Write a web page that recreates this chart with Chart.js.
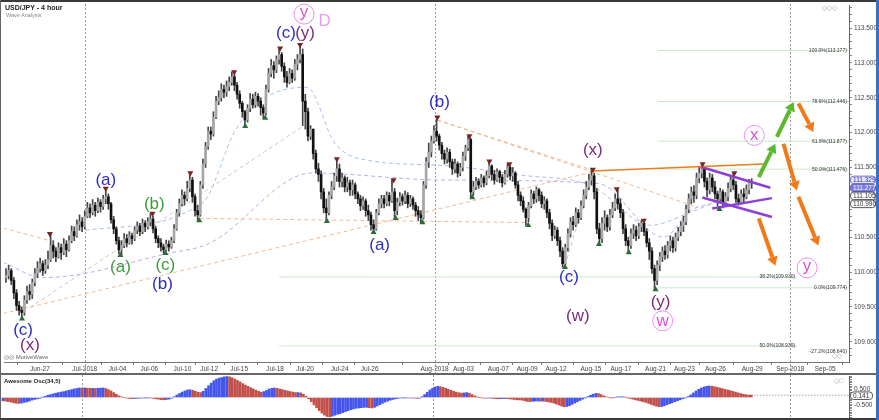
<!DOCTYPE html>
<html lang="en">
<head>
<meta charset="UTF-8">
<title>USD/JPY - 4 hour</title>
<script src="https://cdn.jsdelivr.net/npm/chart.js"></script>
<style>
    html, body { margin: 0; padding: 0; background: #fff; }
    body { width: 879px; height: 420px; position: relative; overflow: hidden; font-family: "Liberation Sans", Arial, sans-serif; }
    canvas { position: absolute; left: 0; }
    #main { top: 0; }
    #osc { top: 375px; }
    .t { position: absolute; white-space: nowrap; line-height: 1; }
    .bar { position: absolute; }
</style>
</head>
<body>
<canvas id="main" width="879" height="373"></canvas>
<canvas id="osc" width="879" height="43"></canvas>

<div class="bar" style="left:0;top:0;width:879px;height:2px;background:#3a3a3a"></div>
<div class="bar" style="left:0;top:0;width:1px;height:420px;background:#666"></div>
<div class="bar" style="left:0;top:418px;width:879px;height:2px;background:#3a3a3a"></div>
<div class="bar" style="left:876px;top:0;width:3px;height:420px;background:#3b70c9"></div>
<div class="bar" style="left:0;top:373px;width:876px;height:2px;background:#666"></div>

<div class="t" style="left:5px;top:4px;font-size:7px;font-weight:bold;color:#222">USD/JPY - 4 hour</div>
<div class="t" style="left:6px;top:13px;font-size:5.5px;color:#888">Wave Analysis</div>
<div class="t" style="left:4px;top:354px;font-size:6px;color:#666">◎◎ MotiveWave</div>
<div class="t" style="left:4px;top:378px;font-size:6px;font-weight:bold;color:#222">Awesome Osc(34,5)</div>
<div class="t" style="left:822px;top:4px;font-size:7px;color:#aaa">◇◇◇</div>
<div class="t" style="left:832px;top:352px;font-size:7px;color:#aaa">◇◇</div>
<div class="t" style="left:834px;top:377px;font-size:7px;color:#aaa">◇□</div>

<script>
    // 4-hour bars, index 0 = Jun-25 00:00, six bars per trading day
    const xTickPos = [12.9, 30, 42.5, 54.6, 67.2, 77.4, 88.8, 102.5, 113.9, 127.1, 138.5, 163.2,
        174.2, 187.5, 198.5, 209.5, 222.8, 234.2, 247.4, 258.4, 270.2, 284.2, 298.7, 312];
    const xTickLabels = ['Jun-27', 'Jul-2018', 'Jul-04', 'Jul-06', 'Jul-10', 'Jul-12', 'Jul-15', 'Jul-18',
        'Jul-20', 'Jul-24', 'Jul-26', 'Aug-2018', 'Aug-03', 'Aug-07', 'Aug-09', 'Aug-12', 'Aug-15',
        'Aug-17', 'Aug-21', 'Aug-23', 'Aug-26', 'Aug-29', 'Sep-2018', 'Sep-05'];
    const monthLines = [30, 163.2, 298.7];
    const priceTicks = [109.0, 109.5, 110.0, 110.5, 111.0, 111.5, 112.0, 112.5, 113.0, 113.5];

    const firstOpen = 109.92;
    const closes = [
        109.95, 110.02, 109.88, 109.70, 109.52, 109.45,
        109.42, 109.60, 109.72, 109.68, 109.85, 109.98,
        110.05, 110.12, 110.02, 110.10, 110.18, 110.38,
        110.30, 110.22, 110.35, 110.28, 110.40, 110.32,
        110.45, 110.58, 110.52, 110.68, 110.72, 110.65,
        110.80, 110.92, 110.85, 110.96, 110.88, 111.00,
        110.94, 111.05, 111.08, 110.98, 110.75, 110.62,
        110.45, 110.32, 110.38, 110.48, 110.42, 110.52,
        110.48, 110.60, 110.66, 110.58, 110.70, 110.65,
        110.72, 110.76, 110.62, 110.48, 110.42, 110.36,
        110.32, 110.40, 110.36, 110.45, 110.62, 110.85,
        110.98, 111.10, 111.05, 111.20, 111.32, 111.08,
        110.88, 110.82, 111.25, 111.55, 111.80, 112.02,
        111.98, 112.22, 112.45, 112.50, 112.62, 112.58,
        112.66, 112.72, 112.80, 112.68, 112.55, 112.42,
        112.30, 112.18, 112.35, 112.48, 112.40, 112.52,
        112.45, 112.36, 112.28, 112.62, 112.85, 112.96,
        112.90, 113.05, 113.12, 112.95, 112.80, 112.72,
        112.85, 112.78, 112.98, 113.05, 113.12, 112.45,
        112.30, 111.95, 112.05, 111.70, 111.48, 111.40,
        111.15, 110.92, 110.85, 111.10, 111.22, 111.38,
        111.48, 111.30, 111.35, 111.22, 111.28, 111.18,
        111.25, 111.12, 111.05, 110.95, 111.02, 110.88,
        110.82, 110.68, 110.62, 110.85, 110.98, 111.05,
        110.98, 111.10, 111.02, 111.15, 110.88, 111.00,
        111.08, 111.02, 111.10, 110.98, 111.05, 110.96,
        110.88, 110.82, 110.78, 111.25, 111.58, 111.72,
        111.88, 112.02, 111.95, 111.82, 111.70, 111.62,
        111.72, 111.58, 111.48, 111.55, 111.42, 111.50,
        111.66, 111.78, 111.90, 111.15, 111.22, 111.30,
        111.25, 111.35, 111.28, 111.38, 111.52, 111.40,
        111.32, 111.44, 111.36, 111.28, 111.40, 111.50,
        111.38, 111.42, 111.25, 111.10, 111.02, 110.90,
        110.78, 110.95, 111.12, 111.05, 111.18, 111.10,
        110.98, 111.02, 110.85, 110.70, 110.52, 110.60,
        110.45, 110.30, 110.12, 110.35, 110.55, 110.72,
        110.68, 110.85, 110.78, 110.95, 111.10, 111.22,
        111.32, 111.38, 111.15, 110.62, 110.48, 110.70,
        110.78, 110.65, 110.82, 110.92, 111.05, 110.98,
        110.85, 110.62, 110.45, 110.38, 110.55, 110.60,
        110.52, 110.65, 110.70, 110.58, 110.42, 110.30,
        110.05, 109.88, 110.10, 110.22, 110.30, 110.25,
        110.38, 110.45, 110.35, 110.50, 110.58, 110.66,
        110.72, 110.90, 111.05, 111.15, 111.10, 111.35,
        111.42, 111.48, 111.30, 111.18, 111.35, 111.22,
        111.12, 111.05, 111.15, 110.98, 111.08, 111.20,
        111.32, 111.25, 111.05, 111.00, 111.12, 111.08,
        111.18, 111.30, 111.28
    ];
    const highs = [
        110.05, 110.10, 110.05, 109.92, 109.75, 109.58,
        109.50, 109.66, 109.80, 109.82, 109.90, 110.05,
        110.15, 110.20, 110.16, 110.18, 110.30, 110.55,
        110.45, 110.35, 110.42, 110.40, 110.48, 110.45,
        110.52, 110.66, 110.65, 110.75, 110.82, 110.78,
        110.88, 111.00, 110.98, 111.04, 111.00, 111.06,
        111.04, 111.10, 111.20, 111.12, 111.00, 110.80,
        110.65, 110.50, 110.45, 110.55, 110.54, 110.58,
        110.56, 110.65, 110.72, 110.70, 110.76, 110.74,
        110.78, 110.84, 110.80, 110.66, 110.52, 110.48,
        110.40, 110.46, 110.45, 110.50, 110.68, 110.90,
        111.05, 111.18, 111.15, 111.30, 111.42, 111.36,
        111.12, 110.96, 111.30, 111.62, 111.86, 112.08,
        112.08, 112.30, 112.52, 112.60, 112.70, 112.68,
        112.74, 112.80, 112.87, 112.84, 112.72, 112.60,
        112.45, 112.32, 112.40, 112.56, 112.55, 112.58,
        112.56, 112.50, 112.40, 112.68, 112.92, 113.05,
        113.02, 113.10, 113.21, 113.15, 113.00, 112.88,
        112.92, 112.90, 113.05, 113.12, 113.26, 113.20,
        112.55, 112.35, 112.10, 112.05, 111.75, 111.56,
        111.45, 111.20, 111.05, 111.15, 111.30, 111.42,
        111.62, 111.55, 111.42, 111.38, 111.36, 111.32,
        111.32, 111.28, 111.15, 111.10, 111.08, 111.05,
        110.96, 110.86, 110.75, 110.90, 111.05, 111.10,
        111.10, 111.15, 111.14, 111.32, 111.20, 111.06,
        111.14, 111.12, 111.16, 111.14, 111.10, 111.08,
        111.00, 110.94, 110.88, 111.30, 111.64, 111.85,
        111.95, 112.10, 112.19, 111.98, 111.86, 111.75,
        111.78, 111.76, 111.62, 111.62, 111.58, 111.56,
        111.72, 111.82, 111.95, 111.92, 111.30, 111.36,
        111.34, 111.40, 111.38, 111.45, 111.59, 111.54,
        111.46, 111.48, 111.46, 111.40, 111.46, 111.55,
        111.55, 111.50, 111.44, 111.30, 111.15, 111.08,
        110.92, 111.00, 111.18, 111.16, 111.22, 111.20,
        111.15, 111.08, 111.05, 110.90, 110.75, 110.66,
        110.64, 110.50, 110.35, 110.40, 110.62, 110.78,
        110.80, 110.92, 110.90, 111.02, 111.18, 111.30,
        111.40, 111.47, 111.42, 111.20, 110.70, 110.78,
        110.88, 110.82, 110.90, 111.00, 111.12, 111.19,
        111.05, 110.90, 110.68, 110.50, 110.62, 110.68,
        110.66, 110.70, 110.74, 110.74, 110.62, 110.48,
        110.35, 110.10, 110.16, 110.28, 110.36, 110.38,
        110.44, 110.52, 110.50, 110.56, 110.64, 110.72,
        110.80, 110.96, 111.12, 111.22, 111.24, 111.42,
        111.50, 111.55, 111.50, 111.35, 111.42, 111.40,
        111.30, 111.16, 111.20, 111.18, 111.14, 111.28,
        111.38, 111.42, 111.30, 111.12, 111.18, 111.20,
        111.25, 111.33, 111.34
    ];
    const lows = [
        109.85, 109.90, 109.82, 109.62, 109.45, 109.38,
        109.33, 109.38, 109.55, 109.60, 109.62, 109.80,
        109.92, 110.00, 109.95, 109.98, 110.05, 110.15,
        110.20, 110.15, 110.20, 110.18, 110.25, 110.22,
        110.30, 110.42, 110.45, 110.50, 110.60, 110.58,
        110.62, 110.78, 110.78, 110.82, 110.80, 110.85,
        110.86, 110.90, 110.98, 110.90, 110.70, 110.55,
        110.40, 110.26, 110.24, 110.35, 110.36, 110.40,
        110.40, 110.45, 110.55, 110.52, 110.55, 110.58,
        110.62, 110.66, 110.56, 110.42, 110.35, 110.30,
        110.27, 110.30, 110.30, 110.34, 110.42, 110.60,
        110.80, 110.95, 110.96, 111.02, 111.15, 111.00,
        110.80, 110.74, 110.80, 111.20, 111.50, 111.76,
        111.90, 111.95, 112.20, 112.40, 112.45, 112.50,
        112.52, 112.60, 112.68, 112.60, 112.48, 112.35,
        112.22, 112.09, 112.15, 112.30, 112.35, 112.36,
        112.38, 112.25, 112.20, 112.25, 112.58, 112.80,
        112.78, 112.86, 112.98, 112.88, 112.72, 112.65,
        112.70, 112.72, 112.75, 112.90, 113.00, 112.10,
        112.05, 111.88, 111.90, 111.62, 111.42, 111.30,
        111.05, 110.85, 110.73, 110.82, 111.05, 111.18,
        111.30, 111.22, 111.22, 111.15, 111.15, 111.10,
        111.10, 111.05, 110.98, 110.88, 110.90, 110.80,
        110.74, 110.60, 110.57, 110.60, 110.82, 110.92,
        110.92, 110.95, 110.95, 111.00, 110.77, 110.82,
        110.95, 110.96, 110.98, 110.92, 110.94, 110.90,
        110.80, 110.74, 110.71, 110.76, 111.20, 111.50,
        111.65, 111.85, 111.88, 111.75, 111.62, 111.55,
        111.56, 111.50, 111.40, 111.42, 111.36, 111.38,
        111.45, 111.60, 111.74, 111.07, 111.10, 111.18,
        111.20, 111.22, 111.22, 111.25, 111.35, 111.32,
        111.26, 111.30, 111.28, 111.22, 111.26, 111.36,
        111.32, 111.30, 111.20, 111.02, 110.95, 110.86,
        110.67, 110.72, 110.92, 110.98, 111.00, 111.02,
        110.92, 110.90, 110.78, 110.62, 110.45, 110.48,
        110.38, 110.22, 110.07, 110.10, 110.30, 110.50,
        110.60, 110.65, 110.70, 110.75, 110.92, 111.05,
        111.18, 111.25, 111.05, 110.55, 110.40, 110.42,
        110.60, 110.58, 110.60, 110.78, 110.88, 110.90,
        110.78, 110.55, 110.38, 110.28, 110.34, 110.48,
        110.45, 110.48, 110.58, 110.52, 110.36, 110.18,
        109.98, 109.75, 109.82, 110.02, 110.15, 110.18,
        110.20, 110.30, 110.28, 110.30, 110.45, 110.52,
        110.58, 110.68, 110.85, 110.98, 111.00, 111.05,
        111.28, 111.35, 111.22, 111.08, 111.12, 111.15,
        111.05, 110.95, 111.00, 110.92, 110.95, 111.02,
        111.15, 111.18, 111.00, 110.96, 110.98, 111.00,
        111.05, 111.12, 111.20
    ];
    // Awesome Oscillator (34,5), one value per bar
    const aoValues = [
        -0.20, -0.22, -0.25, -0.28, -0.32, -0.35,
        -0.36, -0.34, -0.30, -0.27, -0.22, -0.16,
        -0.12, -0.08, -0.05, 0.02, 0.08, 0.14,
        0.18, 0.22, 0.26, 0.30, 0.33, 0.36,
        0.40, 0.44, 0.48, 0.52, 0.55, 0.58,
        0.57, 0.58, 0.57, 0.56, 0.56, 0.55,
        0.56, 0.57, 0.58, 0.55, 0.48, 0.40,
        0.30, 0.20, 0.10, 0.04, 0.00, -0.04,
        -0.06, -0.07, -0.06, -0.05, -0.04, -0.03,
        -0.02, -0.02, -0.03, -0.05, -0.08, -0.10,
        -0.13, -0.14, -0.12, -0.10, -0.04, 0.05,
        0.15, 0.25, 0.33, 0.40, 0.46, 0.47,
        0.44, 0.38, 0.32, 0.30, 0.38, 0.55,
        0.72, 0.88, 1.02, 1.12, 1.18, 1.22,
        1.26, 1.28, 1.26, 1.20, 1.12, 1.04,
        0.95, 0.85, 0.76, 0.68, 0.60, 0.52,
        0.45, 0.38, 0.32, 0.36, 0.44, 0.52,
        0.56, 0.58, 0.56, 0.52, 0.48, 0.44,
        0.40, 0.36, 0.33, 0.30, 0.30, 0.28,
        0.20, 0.08, -0.08, -0.25, -0.45, -0.62,
        -0.80, -0.95, -1.08, -1.16, -1.18, -1.14,
        -1.08, -1.02, -0.98, -0.92, -0.86, -0.80,
        -0.74, -0.70, -0.66, -0.64, -0.62, -0.60,
        -0.60, -0.62, -0.64, -0.60, -0.52, -0.44,
        -0.36, -0.28, -0.22, -0.16, -0.12, -0.08,
        -0.05, -0.03, -0.02, -0.02, -0.03, -0.03,
        -0.04, -0.05, -0.04, 0.05, 0.18, 0.32,
        0.46, 0.56, 0.64, 0.68, 0.66, 0.62,
        0.56, 0.50, 0.44, 0.38, 0.33, 0.29,
        0.27, 0.28, 0.30, 0.26, 0.18, 0.10,
        0.04, 0.00, -0.03, -0.04, -0.03, -0.04,
        -0.06, -0.07, -0.08, -0.07, -0.06, -0.07,
        -0.08, -0.10, -0.12, -0.14, -0.15, -0.16,
        -0.20, -0.24, -0.25, -0.23, -0.22, -0.22,
        -0.23, -0.22, -0.24, -0.27, -0.30, -0.34,
        -0.40, -0.46, -0.52, -0.56, -0.55, -0.50,
        -0.42, -0.34, -0.26, -0.18, -0.10, -0.02,
        0.06, 0.14, 0.20, 0.25, 0.24, 0.18,
        0.10, 0.04, 0.00, -0.02, 0.00, 0.02,
        0.04, 0.05, 0.02, -0.02, -0.06, -0.10,
        -0.14, -0.18, -0.22, -0.26, -0.30, -0.36,
        -0.42, -0.48, -0.53, -0.56, -0.55, -0.50,
        -0.44, -0.38, -0.32, -0.26, -0.20, -0.14,
        -0.08, -0.02, 0.06, 0.16, 0.28, 0.40,
        0.50, 0.58, 0.64, 0.68, 0.70, 0.69,
        0.66, 0.62, 0.58, 0.54, 0.50, 0.46,
        0.42, 0.38, 0.33, 0.28, 0.24, 0.20,
        0.17, 0.15, 0.141
    ];

    // swing markers: [bar, price]
    const swingHighs = [[16.7, 110.55], [38.0, 111.20], [55.8, 110.84], [70.2, 111.42], [86.9, 112.87],
        [104.4, 113.21], [112.0, 113.26], [126.0, 111.62], [147.6, 111.32], [164.3, 112.22],
        [176.5, 111.95], [184.1, 111.59], [191.7, 111.55], [223.5, 111.47], [232.6, 111.19],
        [242.9, 110.74], [265.3, 111.55], [277.4, 111.42]];
    const swingLows = [[6.1, 109.33], [43.6, 110.24], [60.7, 110.27], [73.6, 110.74], [91.1, 112.09],
        [98.7, 112.21], [122.2, 110.73], [140.0, 110.57], [148.4, 110.77], [158.6, 110.71],
        [177.6, 111.07], [198.9, 110.67], [212.9, 110.07], [225.8, 110.40], [237.2, 110.28],
        [247.4, 109.75], [271.7, 110.90]];

    // fibonacci levels
    const fibNames = ['100.0%', '78.6%', '61.8%', '50.0%', '38.2%', '0.0%', '50.0%', '-27.2%'];
    const fibValues = [113.177, 112.446, 111.877, 111.476, 109.930, 109.774, 108.939, 108.640];
    const fibFrom = [248.2, 248.2, 248.2, 248.2, 104, 248.2, 104, 248.2];
    const fibTo = [321, 321, 321, 321, 301.3, 321, 301.3, 321];

    // dashed study lines
    const PEACH = 'rgba(236,178,128,0.85)', LAV = 'rgba(178,158,226,0.85)',
        LBLUE = 'rgba(150,182,232,0.85)', GREYP = 'rgba(200,188,176,0.85)';
    const dashLines = [
        {c: PEACH, t: 0, p: [[-1.1, 109.405], [222.8, 111.43]]},
        {c: PEACH, t: 0, p: [[73.6, 110.77], [198.9, 110.71]]},
        {c: PEACH, t: 0, p: [[164.3, 112.18], [223.5, 111.46]]},
        {c: PEACH, t: 0, p: [[164.3, 112.18], [263.4, 110.93]]},
        {c: PEACH, t: 0, p: [[212.9, 110.09], [223.5, 111.43]]},
        {c: PEACH, t: 0, p: [[-1.1, 110.63], [16.7, 110.45]]},
        {c: GREYP, t: 0, p: [[9.1, 109.49], [112.7, 112.08]]},
        {c: LAV, t: 0.35, p: [[-1.1, 110.14], [14.0, 109.92], [62.2, 110.27], [77.4, 110.41], [116.5, 111.42],
            [165.8, 111.32], [225.4, 111.27], [250.5, 110.50], [260.7, 110.88], [269.4, 110.99]]},
        {c: LBLUE, t: 0.35, p: [[30.4, 110.60], [74.8, 110.99], [87.3, 112.03], [97.5, 112.47], [114.6, 112.65],
            [125.2, 111.85], [138.1, 111.60], [165.8, 111.53], [196.2, 111.39], [222.8, 111.24],
            [245.5, 110.67], [260.7, 110.86], [272.1, 111.03]]}
    ];

    // solid drawn lines
    const solidLines = [
        {c: '#f07a1a', w: 1.6, p: [[223.4, 111.45], [288.4, 111.55]]},
        {c: '#8e3fd6', w: 2.5, p: [[264.5, 111.51], [291.1, 111.21]]},
        {c: '#8e3fd6', w: 2.5, p: [[265.2, 111.07], [291.7, 110.79]]},
        {c: '#8e3fd6', w: 2.5, p: [[269.0, 110.91], [291.7, 111.06]]}
    ];
    const arrows = [
        {c: '#5cb82e', p: [[286.7, 111.36], [293.0, 111.84]]},
        {c: '#5cb82e', p: [[293.6, 111.94], [300.0, 112.44]]},
        {c: '#f07a1a', p: [[301.8, 112.42], [307.5, 112.01]]},
        {c: '#f07a1a', p: [[296.1, 111.84], [301.2, 111.17]]},
        {c: '#f07a1a', p: [[301.8, 111.08], [309.4, 110.38]]},
        {c: '#f07a1a', p: [[286.7, 110.77], [293.0, 110.09]]}
    ];

    const BLUE = '#2c2cc9', GREEN = '#3d9b3d', PURPLE = '#7b2b7b';
    const waveLabels = [
        ['(c)', 106.6, 113.43, BLUE], ['(y)', 113.9, 113.43, PURPLE],
        ['(a)', 38.0, 111.32, BLUE], ['(a)', 43.6, 110.07, GREEN],
        ['(b)', 56.5, 110.97, GREEN], ['(c)', 60.7, 110.09, GREEN],
        ['(b)', 59.6, 109.83, BLUE], ['(c)', 6.5, 109.16, BLUE],
        ['(x)', 9.1, 108.95, PURPLE], ['(a)', 142.3, 110.38, BLUE],
        ['(b)', 165.1, 112.44, BLUE], ['(x)', 223.5, 111.75, PURPLE],
        ['(c)', 214.4, 109.93, BLUE], ['(w)', 217.8, 109.37, PURPLE],
        ['(y)', 249.3, 109.57, PURPLE]
    ];
    const circleLabels = [['y', 113.5, 113.70], ['w', 250.1, 109.30], ['x', 285.0, 111.96], ['y', 305.1, 110.06]];
    const priceBoxes = [111.329, 111.277, 111.105, 110.990];
    const aoLast = 0.141;

    const X_MIN = -0.76, X_MAX = 321.06;
    const FONT = '"Liberation Sans", Arial, sans-serif';
    Chart.defaults.font.family = FONT;

    const opens = closes.map((c, i) => i === 0 ? firstOpen : closes[i - 1]);

    function xAxis(show) {
        const ax = {
            type: 'linear', min: X_MIN, max: X_MAX, offset: false, display: show,
            afterBuildTicks: s => { s.ticks = xTickPos.map(v => ({value: v})); },
            ticks: {
                autoSkip: false, maxRotation: 0, minRotation: 0, padding: 0,
                font: {size: 6.5}, color: '#444',
                callback: (v, idx) => xTickLabels[idx]
            },
            grid: {drawOnChartArea: false, tickLength: 3, color: '#777'},
            border: {color: '#777'}
        };
        if (show) ax.afterFit = s => { s.height = 11; s.paddingLeft = 0; s.paddingRight = 0; };
        return ax;
    }

    // fixed-width right axis, no label overhang padding so the plot keeps its full height
    function fitRight(s) {
        s.width = 30;
        s.paddingTop = 0;
        s.paddingBottom = 0;
    }

    function minorTicks(lo, hi) {
        const t = [];
        for (let k = Math.round(lo * 10); k <= Math.round(hi * 10); k++) t.push({value: k / 10});
        return t;
    }

    function dottedMonths(chart) {
        const {ctx, scales: {x}} = chart;
        ctx.save();
        ctx.strokeStyle = '#9a9a9a';
        ctx.lineWidth = 1;
        ctx.setLineDash([2, 2]);
        monthLines.forEach(m => {
            const px = Math.round(x.getPixelForValue(m)) + 0.5;
            ctx.beginPath();
            ctx.moveTo(px, 0);
            ctx.lineTo(px, chart.height);
            ctx.stroke();
        });
        ctx.restore();
    }

    function drawArrow(ctx, x1, y1, x2, y2, color) {
        const ang = Math.atan2(y2 - y1, x2 - x1);
        const hl = 9, hw = 5.5;
        const bx = x2 - hl * Math.cos(ang), by = y2 - hl * Math.sin(ang);
        ctx.strokeStyle = color;
        ctx.lineWidth = 4;
        ctx.beginPath();
        ctx.moveTo(x1, y1);
        ctx.lineTo(bx, by);
        ctx.stroke();
        ctx.fillStyle = color;
        ctx.beginPath();
        ctx.moveTo(x2, y2);
        ctx.lineTo(bx - hw * Math.sin(ang), by + hw * Math.cos(ang));
        ctx.lineTo(bx + hw * Math.sin(ang), by - hw * Math.cos(ang));
        ctx.closePath();
        ctx.fill();
    }

    function box(ctx, x, top, w, h, fill, stroke, color, text) {
        ctx.fillStyle = fill;
        ctx.strokeStyle = stroke;
        ctx.lineWidth = 1;
        ctx.beginPath();
        ctx.roundRect(x + 0.5, top + 0.5, w, h, 3);
        ctx.fill();
        ctx.stroke();
        ctx.fillStyle = color;
        ctx.font = '6.5px ' + FONT;
        ctx.textAlign = 'left';
        ctx.textBaseline = 'middle';
        ctx.fillText(text, x + 3, top + h / 2 + 1);
    }

    const mainDeco = {
        id: 'mainDeco',
        beforeDatasetsDraw: chart => dottedMonths(chart),
        afterDatasetsDraw(chart) {
            const {ctx, chartArea: a, scales: {x, y}} = chart;
            ctx.save();
            // fib labels
            ctx.font = '5px ' + FONT;
            ctx.fillStyle = '#333';
            ctx.textAlign = 'right';
            ctx.textBaseline = 'middle';
            fibValues.forEach((v, k) => {
                const py = Math.min(y.getPixelForValue(v), a.bottom - 10);
                ctx.fillText(fibNames[k] + '(' + v.toFixed(3) + ')', x.getPixelForValue(fibTo[k]) - 2, py);
            });
            // arrows
            arrows.forEach(ar => drawArrow(ctx,
                x.getPixelForValue(ar.p[0][0]), y.getPixelForValue(ar.p[0][1]),
                x.getPixelForValue(ar.p[1][0]), y.getPixelForValue(ar.p[1][1]), ar.c));
            // wave labels
            ctx.font = '17px ' + FONT;
            ctx.textAlign = 'center';
            ctx.textBaseline = 'middle';
            waveLabels.forEach(([t, i, p, c]) => {
                ctx.fillStyle = c;
                ctx.fillText(t, x.getPixelForValue(i), y.getPixelForValue(p));
            });
            // circled labels
            circleLabels.forEach(([t, i, p]) => {
                const cx = x.getPixelForValue(i), cy = y.getPixelForValue(p);
                ctx.strokeStyle = '#ec8fec';
                ctx.lineWidth = 1;
                ctx.beginPath();
                ctx.arc(cx, cy, 10, 0, Math.PI * 2);
                ctx.stroke();
                ctx.fillStyle = '#dd4fdd';
                ctx.font = '17px ' + FONT;
                ctx.textBaseline = 'alphabetic';
                ctx.fillText(t, cx, cy + (t === 'y' ? 3 : 5));
            });
            ctx.fillStyle = '#e7a0e7';
            ctx.font = '17px ' + FONT;
            ctx.textBaseline = 'middle';
            ctx.fillText('D', x.getPixelForValue(121.4), y.getPixelForValue(113.59));
            ctx.restore();
        },
        afterDraw(chart) {
            const {ctx, chartArea: a, scales: {y}} = chart;
            ctx.save();
            const styles = [
                ['#e6e6fa', '#6b6bd6', '#3030b0'],
                ['#7b7be0', '#5a5ac0', '#ffffff'],
                ['#ffffff', '#555555', '#333333'],
                ['#ffffff', '#555555', '#333333']
            ];
            let last = -Infinity;
            priceBoxes.forEach((v, k) => {
                const h = 7.5;
                const top = Math.max(y.getPixelForValue(v) - h / 2, last + 0.5);
                last = top + h;
                const s = styles[k];
                box(ctx, a.right + 1, top, 25, h, s[0], s[1], s[2], v.toFixed(3));
            });
            ctx.restore();
        }
    };

    const datasets = [];
    fibValues.forEach((v, k) => datasets.push({
        type: 'line', order: 20, data: [{x: fibFrom[k], y: v}, {x: fibTo[k], y: v}],
        borderColor: '#cde8cd', borderWidth: 1, pointRadius: 0, fill: false
    }));
    dashLines.forEach(l => datasets.push({
        type: 'line', order: 15, data: l.p.map(q => ({x: q[0], y: q[1]})),
        borderColor: l.c, borderWidth: 1, borderDash: [4, 3], pointRadius: 0, fill: false,
        tension: l.t, cubicInterpolationMode: 'monotone'
    }));
    datasets.push({
        type: 'bar', order: 10, grouped: false, barThickness: 1,
        data: closes.map((c, i) => ({x: i, y: [Math.min(lows[i], opens[i], c), Math.max(highs[i], opens[i], c)]})),
        backgroundColor: '#444'
    });
    datasets.push({
        type: 'bar', order: 9, grouped: false, barThickness: 2, minBarLength: 1,
        data: closes.map((c, i) => ({x: i, y: [opens[i], c]})),
        backgroundColor: closes.map((c, i) => c >= opens[i] ? '#a8a8a8' : '#111111')
    });
    solidLines.forEach(l => datasets.push({
        type: 'line', order: 5, data: l.p.map(q => ({x: q[0], y: q[1]})),
        borderColor: l.c, borderWidth: l.w, pointRadius: 0, fill: false
    }));
    datasets.push({
        type: 'scatter', order: 1, data: swingHighs.map(q => ({x: q[0], y: q[1]})),
        pointStyle: 'triangle', rotation: 180, pointRadius: 3.5, backgroundColor: '#7a2424', borderWidth: 0
    });
    datasets.push({
        type: 'scatter', order: 1, data: swingLows.map(q => ({x: q[0], y: q[1]})),
        pointStyle: 'triangle', pointRadius: 3.5, backgroundColor: '#2d6b3b', borderWidth: 0
    });

    new Chart(document.getElementById('main'), {
        type: 'bar',
        data: {datasets: datasets},
        options: {
            responsive: false, animation: false, events: [],
            layout: {padding: {left: 1, right: 0, top: 5, bottom: 0}},
            plugins: {legend: {display: false}, tooltip: {enabled: false}},
            scales: {
                x: xAxis(true),
                y: {
                    position: 'right', min: 108.71, max: 113.83,
                    afterBuildTicks: s => { s.ticks = minorTicks(108.8, 113.8); },
                    afterFit: fitRight,
                    ticks: {
                        autoSkip: false, padding: 2, font: {size: 6.5}, color: '#444',
                        callback: v => priceTicks.includes(Math.round(v * 10) / 10) ? v.toFixed(3) : ''
                    },
                    grid: {drawOnChartArea: false, tickLength: 3, color: '#888'},
                    border: {color: '#666'}
                }
            }
        },
        plugins: [mainDeco]
    });

    // oscillator panel
    const oscDeco = {
        id: 'oscDeco',
        beforeDatasetsDraw: chart => dottedMonths(chart),
        afterDraw(chart) {
            const {ctx, chartArea: a, scales: {y}} = chart;
            ctx.save();
            box(ctx, a.right + 1, y.getPixelForValue(aoLast) - 3.75, 22, 7.5, '#ffffff', '#555555', '#333333', aoLast.toFixed(3));
            ctx.restore();
        }
    };

    new Chart(document.getElementById('osc'), {
        type: 'bar',
        data: {
            datasets: [
                {
                    type: 'line', order: 5,
                    data: [{x: aoValues.length - 1, y: aoLast}, {x: X_MAX, y: aoLast}],
                    borderColor: '#777', borderWidth: 1, borderDash: [1, 2], pointRadius: 0, fill: false
                },
                {
                    type: 'bar', order: 1, grouped: false, barThickness: 2,
                    data: aoValues.map((v, i) => ({x: i, y: v})),
                    backgroundColor: aoValues.map((v, i) => (i === 0 || v >= aoValues[i - 1]) ? '#4455ee' : '#c2504a')
                }
            ]
        },
        options: {
            responsive: false, animation: false, events: [],
            layout: {padding: {left: 1, right: 0, top: 1, bottom: 0}},
            plugins: {legend: {display: false}, tooltip: {enabled: false}},
            scales: {
                x: xAxis(false),
                y: {
                    position: 'right', min: -1.25, max: 1.311,
                    afterBuildTicks: s => { s.ticks = minorTicks(-1.2, 1.3); },
                    afterFit: fitRight,
                    ticks: {
                        autoSkip: false, padding: 2, font: {size: 6.5}, color: '#444',
                        callback: v => Math.abs(Math.abs(v) - 0.5) < 1e-6 ? v.toFixed(3) : ''
                    },
                    grid: {drawOnChartArea: false, tickLength: 3, color: '#888'},
                    border: {color: '#666'}
                }
            }
        },
        plugins: [oscDeco]
    });
</script>
</body>
</html>
